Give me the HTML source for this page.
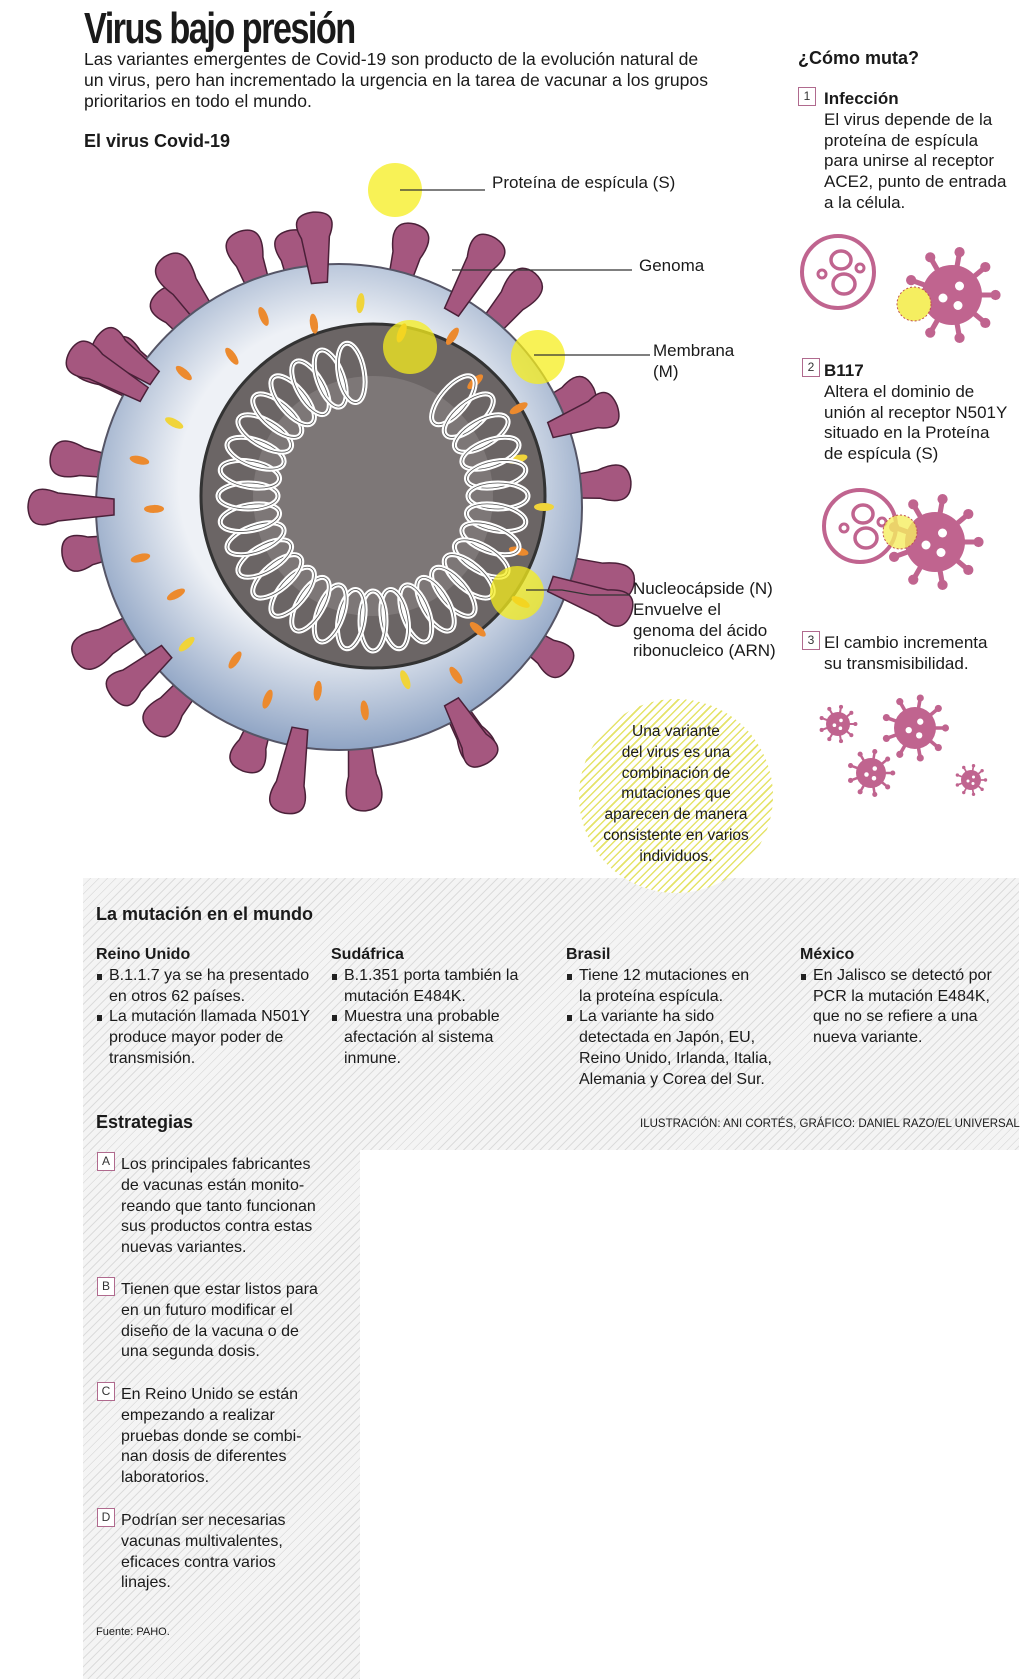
<!DOCTYPE html>
<html><head><meta charset="utf-8">
<style>
body{margin:0;width:1024px;height:1679px;position:relative;background:#fff;font-family:"Liberation Sans",sans-serif;color:#1a1a1a;overflow:hidden}
.a{position:absolute;white-space:nowrap}
.t{font-size:16.5px;line-height:20.8px}
.b{font-weight:bold}
.box{position:absolute;width:16px;height:17px;border:1px solid #b06a8e;font-size:12px;line-height:17px;text-align:center;color:#333;background:#fff}
.hatch{background:repeating-linear-gradient(135deg,#f4f4f4 0 5px,#dcdcdc 5px 6px)}
ul{margin:0;padding:0;list-style:none}
li{position:relative;padding-left:13px}
li:before{content:"";position:absolute;left:1px;top:8px;width:5px;height:6px;background:#222}
</style></head><body>
<div class="a hatch" style="left:83px;top:878px;width:936px;height:272px"></div>
<div class="a hatch" style="left:83px;top:1150px;width:277px;height:529px"></div>

<div class="a" style="left:84px;top:4px;font-family:'Liberation Sans Narrow','Liberation Sans',sans-serif;font-size:44px;font-weight:bold;letter-spacing:-2px;transform:scaleX(0.78);transform-origin:left">Virus bajo presión</div>
<div class="a t" style="left:84px;top:49px;font-size:17.6px">Las variantes emergentes de Covid-19 son producto de la evolución natural de<br>un virus, pero han incrementado la urgencia en la tarea de vacunar a los grupos<br>prioritarios en todo el mundo.</div>
<div class="a b" style="left:84px;top:131px;font-size:18px">El virus Covid-19</div>

<svg class="a" style="left:0;top:140px" width="760" height="700" id="v"></svg>

<div class="a t" style="left:492px;top:173px;font-size:17px">Proteína de espícula (S)</div>
<div class="a t" style="left:639px;top:256px;font-size:17px">Genoma</div>
<div class="a t" style="left:653px;top:341px;font-size:17px">Membrana<br>(M)</div>
<div class="a t" style="left:633px;top:579px;font-size:17px">Nucleocápside (N)<br>Envuelve el<br>genoma del ácido<br>ribonucleico (ARN)</div>

<div class="a" style="left:579px;top:699px;width:194px;height:194px;border-radius:50%;background:repeating-linear-gradient(135deg,#fff 0 4px,#e5e36a 4px 5.5px)"></div>
<div class="a t" style="left:579px;top:722px;width:194px;text-align:center;white-space:normal;font-size:15.5px">Una variante<br>del virus es una<br>combinación de<br>mutaciones que<br>aparecen de manera<br>consistente en varios<br>individuos.</div>

<div class="a b" style="left:798px;top:48px;font-size:18px">¿Cómo muta?</div>
<div class="box" style="left:798px;top:87px">1</div>
<div class="a t" style="left:824px;top:89px;font-size:17px"><b>Infección</b><br>El virus depende de la<br>proteína de espícula<br>para unirse al receptor<br>ACE2, punto de entrada<br>a la célula.</div>
<div class="box" style="left:802px;top:358px">2</div>
<div class="a t" style="left:824px;top:361px;font-size:17px"><b>B117</b><br>Altera el dominio de<br>unión al receptor N501Y<br>situado en la Proteína<br>de espícula (S)</div>
<div class="box" style="left:802px;top:631px">3</div>
<div class="a t" style="left:824px;top:633px;font-size:17px">El cambio incrementa<br>su transmisibilidad.</div>
<svg class="a" style="left:780px;top:220px" width="244" height="600" id="ic"></svg>

<div class="a b" style="left:96px;top:904px;font-size:18px">La mutación en el mundo</div>
<div class="a t" style="left:96px;top:945px;font-size:16px"><b>Reino Unido</b><ul><li>B.1.1.7 ya se ha presentado<br>en otros 62 países.</li><li>La mutación llamada N501Y<br>produce mayor poder de<br>transmisión.</li></ul></div>
<div class="a t" style="left:331px;top:945px;font-size:16px"><b>Sudáfrica</b><ul><li>B.1.351 porta también la<br>mutación E484K.</li><li>Muestra una probable<br>afectación al sistema<br>inmune.</li></ul></div>
<div class="a t" style="left:566px;top:945px;font-size:16px"><b>Brasil</b><ul><li>Tiene 12 mutaciones en<br>la proteína espícula.</li><li>La variante ha sido<br>detectada en Japón, EU,<br>Reino Unido, Irlanda, Italia,<br>Alemania y Corea del Sur.</li></ul></div>
<div class="a t" style="left:800px;top:945px;font-size:16px"><b>México</b><ul><li>En Jalisco se detectó por<br>PCR la mutación E484K,<br>que no se refiere a una<br>nueva variante.</li></ul></div>
<div class="a b" style="left:96px;top:1112px;font-size:18px">Estrategias</div>
<div class="a" style="left:640px;top:1118px;font-size:11.5px;width:366px;text-align:right">ILUSTRACIÓN: ANI CORTÉS, GRÁFICO: DANIEL RAZO/EL UNIVERSAL</div>

<div class="box" style="left:97px;top:1152px">A</div>
<div class="a t" style="left:121px;top:1155px;font-size:16px">Los principales fabricantes<br>de vacunas están monito-<br>reando que tanto funcionan<br>sus productos contra estas<br>nuevas variantes.</div>
<div class="box" style="left:97px;top:1277px">B</div>
<div class="a t" style="left:121px;top:1280px;font-size:16px">Tienen que estar listos para<br>en un futuro modificar el<br>diseño de la vacuna o de<br>una segunda dosis.</div>
<div class="box" style="left:97px;top:1382px">C</div>
<div class="a t" style="left:121px;top:1385px;font-size:16px">En Reino Unido se están<br>empezando a realizar<br>pruebas donde se combi-<br>nan dosis de diferentes<br>laboratorios.</div>
<div class="box" style="left:97px;top:1508px">D</div>
<div class="a t" style="left:121px;top:1511px;font-size:16px">Podrían ser necesarias<br>vacunas multivalentes,<br>eficaces contra varios<br>linajes.</div>
<div class="a" style="left:96px;top:1626px;font-size:11px">Fuente: PAHO.</div>

<script>
var NS="http://www.w3.org/2000/svg";
function el(p,t,a){var e=document.createElementNS(NS,t);for(var k in a)e.setAttribute(k,a[k]);p.appendChild(e);return e;}
var v=document.getElementById('v');
var d=el(v,'defs',{});
var g=el(d,'radialGradient',{id:'bg',cx:'50%',cy:'45%',r:'55%'});
el(g,'stop',{offset:'0.6','stop-color':'#eef1f6'});el(g,'stop',{offset:'1','stop-color':'#8fa4c4'});
var cx=339,cy=367;
var ang=[-100,-75,-50,-25,-5,15,35,60,85,110,130,150,170,190,210,230,250,-125,-145];
function spike(a,r0,len){var rad=a*Math.PI/180,c=Math.cos(rad),s=Math.sin(rad),px=-s,py=c;
 var x0=cx+c*r0,y0=cy+s*r0,x1=cx+c*(r0+len),y1=cy+s*(r0+len);
 var xm=cx+c*(r0+len*0.7),ym=cy+s*(r0+len*0.7);
 el(v,'path',{d:'M'+(x0+px*8)+' '+(y0+py*8)+' L'+(xm+px*14)+' '+(ym+py*14)+' Q'+(x1+px*26+c*5)+' '+(y1+py*26+s*5)+' '+(x1+c*6)+' '+(y1+s*6)+' Q'+(x1-px*26+c*5)+' '+(y1-py*26+s*5)+' '+(xm-px*14)+' '+(ym-py*14)+' L'+(x0-px*8)+' '+(y0-py*8)+'Z',fill:'#a5577f',stroke:'#4a2038','stroke-width':1.5});}
ang.forEach(function(a,i){spike(a,200,75+(i%3)*12);});
el(v,'circle',{cx:cx,cy:cy,r:243,fill:'url(#bg)',stroke:'#556',"stroke-width":2});
el(v,'circle',{cx:373,cy:356,r:172,fill:'#6b6565',stroke:'#333','stroke-width':3});
el(v,'circle',{cx:373,cy:356,r:120,fill:'#7d7777'});
for(var i=0;i<26;i++){var a=i*13.8*Math.PI/180,r=i%2?185:205;el(v,'ellipse',{cx:cx+Math.cos(a)*r,cy:cy+Math.sin(a)*r,rx:4,ry:10,fill:i%5==0?'#f0d43a':'#ec8a2e',transform:'rotate('+(i*13.8+90)+' '+(cx+Math.cos(a)*r)+' '+(cy+Math.sin(a)*r)+')'});}
for(var i=0;i<32;i++){var a=(-50+i*10)*Math.PI/180,r=125;var x=373+Math.cos(a)*r,y=356+Math.sin(a)*r;
 el(v,'ellipse',{cx:x,cy:y,rx:30,ry:13,fill:'none',stroke:'#fff','stroke-width':5,transform:'rotate('+(-50+i*10)+' '+x+' '+y+')'});
 el(v,'ellipse',{cx:x,cy:y,rx:30,ry:13,fill:'none',stroke:'#555','stroke-width':0.8,transform:'rotate('+(-50+i*10)+' '+x+' '+y+')'});}
[-95,-60,-20,20,60,100,140,180,215,-150].forEach(function(a,i){spike(a,225,65+(i%2)*15);});
[[395,50],[410,207],[538,217],[517,453]].forEach(function(p){el(v,'circle',{cx:p[0],cy:p[1],r:27,fill:'#f5ee1e','fill-opacity':0.75});});
el(v,'path',{d:'M400 50 H485 M452 130 H632 M534 215 H650 M526 450 L562 450 L590 455 H630',stroke:'#333','stroke-width':1.3,fill:'none'});
var ic=document.getElementById('ic');var P='#c0648f';
function cell(x,y,r){el(ic,'circle',{cx:x,cy:y,r:r,fill:'none',stroke:P,'stroke-width':4});
 el(ic,'ellipse',{cx:x+3,cy:y-12,rx:10,ry:9,fill:'none',stroke:P,'stroke-width':3.5});
 el(ic,'ellipse',{cx:x+6,cy:y+12,rx:11,ry:10,fill:'none',stroke:P,'stroke-width':3.5});
 el(ic,'circle',{cx:x-16,cy:y+2,r:4,fill:'none',stroke:P,'stroke-width':3});
 el(ic,'circle',{cx:x+22,cy:y-4,r:4,fill:'none',stroke:P,'stroke-width':3});}
function vir(x,y,r){for(var k=0;k<9;k++){var a=k*40*Math.PI/180;el(ic,'line',{x1:x,y1:y,x2:x+Math.cos(a)*r*1.45,y2:y+Math.sin(a)*r*1.45,stroke:P,'stroke-width':r*0.17});el(ic,'circle',{cx:x+Math.cos(a)*r*1.45,cy:y+Math.sin(a)*r*1.45,r:r*0.17,fill:P});}
 el(ic,'circle',{cx:x,cy:y,r:r,fill:P});
 [[0.25,-0.3],[-0.3,0.1],[0.2,0.35]].forEach(function(o){el(ic,'circle',{cx:x+o[0]*r,cy:y+o[1]*r,r:r*0.15,fill:'#fff'});});}
cell(58,52,36);vir(172,75,30);
el(ic,'circle',{cx:134,cy:84,r:17,fill:'#f5ee60',stroke:'#c05050','stroke-dasharray':'2 2'});
cell(80,306,36);vir(155,322,30);
el(ic,'circle',{cx:120,cy:312,r:17,fill:'#f5ee60','fill-opacity':0.8,stroke:'#c05050','stroke-dasharray':'2 2'});
vir(58,504,12);vir(135,508,21);vir(91,553,15);vir(191,560,10);
</script>
</body></html>
